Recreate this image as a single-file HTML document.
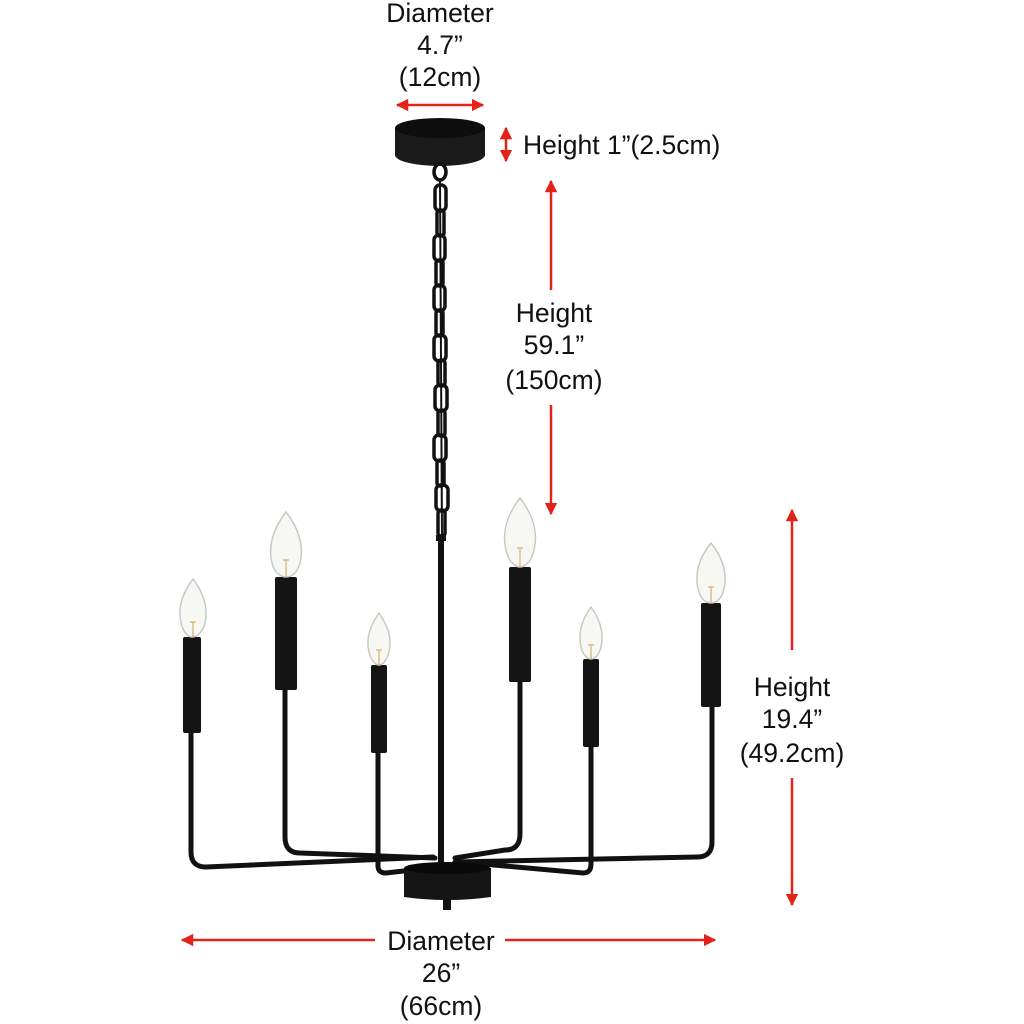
<!DOCTYPE html>
<html><head><style>
html,body{margin:0;padding:0;background:#fff;}
svg{display:block}
text{font-family:"Liberation Sans",sans-serif;font-size:26.5px;fill:#111;text-anchor:middle}
</style></head><body>
<svg width="1024" height="1024" viewBox="0 0 1024 1024">
<defs>
<marker id="a" viewBox="0 0 10 10" refX="9" refY="5" markerWidth="5" markerHeight="5" orient="auto-start-reverse"><path d="M0,0L10,5L0,10z" fill="#e2231a"/></marker>
</defs>
<g stroke="#e2231a" stroke-width="2.5" fill="none">
<line x1="397" y1="105" x2="483" y2="105" marker-start="url(#a)" marker-end="url(#a)"/>
<line x1="506" y1="128" x2="506" y2="161" marker-start="url(#a)" marker-end="url(#a)"/>
<line x1="551" y1="181" x2="551" y2="290" marker-start="url(#a)"/>
<line x1="551" y1="405" x2="551" y2="514" marker-end="url(#a)"/>
<line x1="792" y1="510" x2="792" y2="650" marker-start="url(#a)"/>
<line x1="792" y1="778" x2="792" y2="905" marker-end="url(#a)"/>
<line x1="182" y1="940" x2="375" y2="940" marker-start="url(#a)"/>
<line x1="505" y1="940" x2="715" y2="940" marker-end="url(#a)"/>
</g>
<text x="440" y="22">Diameter</text>
<text x="440" y="54">4.7”</text>
<text x="440" y="86">(12cm)</text>
<text x="523" y="154" style="text-anchor:start">Height 1”(2.5cm)</text>
<text x="554" y="322">Height</text>
<text x="554" y="354">59.1”</text>
<text x="554" y="389">(150cm)</text>
<text x="792" y="696">Height</text>
<text x="792" y="728">19.4”</text>
<text x="792" y="762">(49.2cm)</text>
<text x="441" y="950">Diameter</text>
<text x="441" y="982">26”</text>
<text x="441" y="1015">(66cm)</text>

<!-- canopy -->
<path d="M395,128 L395,155 A45,11 0 0 0 485,155 L485,128 Z" fill="#1a1a1a"/>
<ellipse cx="440" cy="128" rx="45" ry="10" fill="#0d0d0d"/>
<!-- chain -->
<g fill="none" stroke="#111" stroke-width="3.5">
<ellipse cx="440" cy="172" rx="6" ry="8"/>
<line x1="440" y1="180" x2="442" y2="540" stroke-width="2"/>
<rect x="435" y="185" width="11" height="26" rx="5"/>
<rect x="437" y="210" width="7" height="26" rx="3"/>
<rect x="434" y="235" width="11" height="26" rx="5"/>
<rect x="436" y="260" width="7" height="26" rx="3"/>
<rect x="434" y="285" width="11" height="26" rx="5"/>
<rect x="436" y="310" width="7" height="26" rx="3"/>
<rect x="434" y="335" width="12" height="26" rx="5"/>
<rect x="438" y="360" width="7" height="26" rx="3"/>
<rect x="435" y="385" width="12" height="26" rx="5"/>
<rect x="438" y="410" width="7" height="26" rx="3"/>
<rect x="434" y="435" width="12" height="26" rx="5"/>
<rect x="437" y="460" width="7" height="26" rx="3"/>
<rect x="436" y="485" width="12" height="26" rx="5"/>
<rect x="438" y="510" width="7" height="26" rx="3"/>
</g>
<!-- arms -->
<g fill="none" stroke="#111" stroke-width="5" stroke-linecap="round">
<line x1="441" y1="540" x2="441" y2="865" stroke-width="6"/>
<path d="M191,733 L191,852 Q191,867 206,867 L433,857"/>
<path d="M285,690 L285,837 Q285,853 300,853 L435,858"/>
<path d="M378,753 L378,866 Q378,873 386,873 L430,868"/>
<path d="M520,682 L520,834 Q520,850 505,850 L455,858"/>
<path d="M591,747 L591,864 Q591,873 583,873 L460,862"/>
<path d="M712,707 L712,842 Q712,857 697,857 L455,862"/>
</g>
<rect x="436" y="535" width="10" height="6" fill="#111"/>
<!-- hub -->
<path d="M404,868 L404,897 Q447,903 491,897 L491,868 Z" fill="#151515"/>
<ellipse cx="447" cy="868" rx="43" ry="6" fill="#0a0a0a"/>
<rect x="443" y="898" width="8" height="12" fill="#111"/>
<!-- tubes -->
<g fill="#141414">
<rect x="183" y="637" width="18" height="96" rx="2"/>
<rect x="275" y="577" width="22" height="113" rx="2"/>
<rect x="371" y="665" width="16" height="88" rx="2"/>
<rect x="509" y="567" width="22" height="115" rx="2"/>
<rect x="583" y="659" width="16" height="88" rx="2"/>
<rect x="701" y="603" width="20" height="104" rx="2"/>
</g>
<!-- bulbs -->
<g fill="#f7f7f4" stroke="#c9c9c4" stroke-width="1.5">
<path d="M193,579 C181,595 178,610 181,623 C183,632 188,637 192,637 C197,637 203,632 205,623 C208,610 205,595 193,579Z"/>
<path d="M286,512 C272,530 268,548 272,563 C274,572 280,577 286,577 C292,577 298,572 300,563 C304,548 300,530 286,512Z"/>
<path d="M379,613 C369,627 366,640 369,652 C371,660 375,665 379,665 C383,665 387,660 389,652 C392,640 389,627 379,613Z"/>
<path d="M520,498 C506,516 502,534 506,550 C508,560 514,567 520,567 C526,567 532,560 534,550 C538,534 534,516 520,498Z"/>
<path d="M591,607 C581,621 578,634 581,647 C583,655 587,659 591,659 C595,659 599,655 601,647 C604,634 601,621 591,607Z"/>
<path d="M711,543 C698,559 695,575 698,589 C700,598 705,603 711,603 C717,603 722,598 724,589 C727,575 724,559 711,543Z"/>
</g>
<g stroke="#d8b070" stroke-width="1.2" fill="none">
<path d="M193,637 L193,622 M190,622 L196,622"/>
<path d="M286,577 L286,560 M283,560 L289,560"/>
<path d="M379,665 L379,650 M376,650 L382,650"/>
<path d="M520,567 L520,548 M517,548 L523,548"/>
<path d="M591,659 L591,645 M588,645 L594,645"/>
<path d="M711,603 L711,587 M708,587 L714,587"/>
</g>
</svg>
</body></html>
